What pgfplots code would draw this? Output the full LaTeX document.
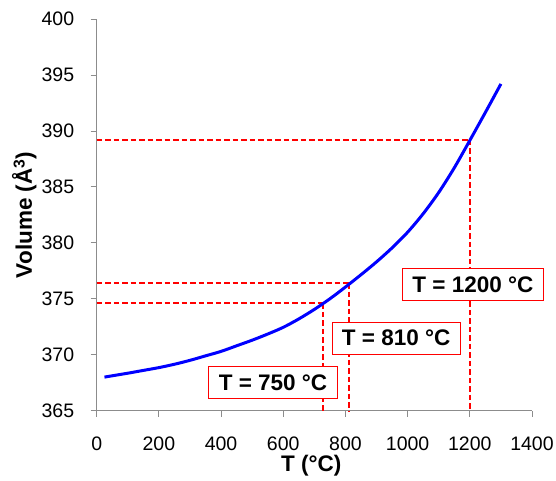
\documentclass[border=0pt]{standalone}
\usepackage{fontspec}
\setmainfont{Liberation Sans}
\usepackage{pgfplots}
\pgfplotsset{compat=1.18}
\begin{document}
\begin{tikzpicture}
\begin{axis}[
  name=ax,
  scale only axis,
  width=435.3bp, height=391.7bp,
  xmin=0, xmax=1400, ymin=365, ymax=400,
  xtick={0,200,...,1400}, ytick={365,370,...,400},
  axis lines=left,
  axis line style={draw=black!45, line width=0.8bp, -},
  tick style={draw=black!45, line width=0.8bp},
  tick align=outside,
  major tick length=6bp,
  /pgf/number format/assume math mode=true,
  /pgf/number format/1000 sep={},
  tick label style={font=\fontsize{19.5bp}{23bp}\selectfont},
  xticklabel style={yshift=-17bp},
  yticklabel style={xshift=-13bp},
  clip=false,
]
\pgfplotsset{dsh/.style={red, line width=2bp, dash pattern=on 5.5bp off 3bp, line cap=butt, mark=none}}
\addplot[dsh] coordinates {(0,374.6) (728,374.6)};
\addplot[dsh] coordinates {(728,374.6) (728,365)};
\addplot[dsh] coordinates {(0,376.4) (813,376.4)};
\addplot[dsh] coordinates {(813,376.4) (813,365)};
\addplot[dsh] coordinates {(0,389.2) (1199,389.2)};
\addplot[dsh] coordinates {(1199,389.2) (1199,365)};
\addplot[blue, line width=3bp, smooth, mark=none] coordinates {
(25,368.0) (50,368.12) (100,368.35) (150,368.6) (200,368.85) (250,369.15)
(300,369.5) (350,369.9) (400,370.3) (450,370.8) (500,371.3) (550,371.85)
(600,372.45) (650,373.2) (700,374.05) (750,375.0) (800,376.05) (850,377.15)
(900,378.3) (950,379.55) (1000,380.95) (1050,382.6) (1100,384.5) (1150,386.7)
(1200,389.15) (1250,391.65) (1300,394.2)};
\tikzset{lbl/.style={draw=red, fill=white, line width=0.8bp,
  font=\bfseries\fontsize{22.5bp}{26bp}\selectfont,
  inner xsep=10bp, inner ysep=8bp, text height=16bp, text depth=0pt}}
\node[lbl] at (axis cs:567,367.5) {T = 750 °C};
\node[lbl] at (axis cs:963,371.5) {T = 810 °C};
\node[lbl] at (axis cs:1210,376.3) {T = 1200 °C};
\end{axis}
\node[font=\bfseries\fontsize{22.5bp}{26bp}\selectfont, anchor=base] at ([xshift=-3bp,yshift=-60.3bp]ax.south) {T (°C)};
\node[font=\bfseries\fontsize{22.5bp}{26bp}\selectfont, rotate=90, anchor=base] at ([xshift=-64.7bp]ax.west) {Volume (Å\textsuperscript{3})};
\pgfresetboundingbox
\path[use as bounding box] ([shift={(-96.7bp,-70.3bp)}]ax.south west) rectangle ([shift={(24bp,19bp)}]ax.north east);
\end{tikzpicture}
\end{document}
